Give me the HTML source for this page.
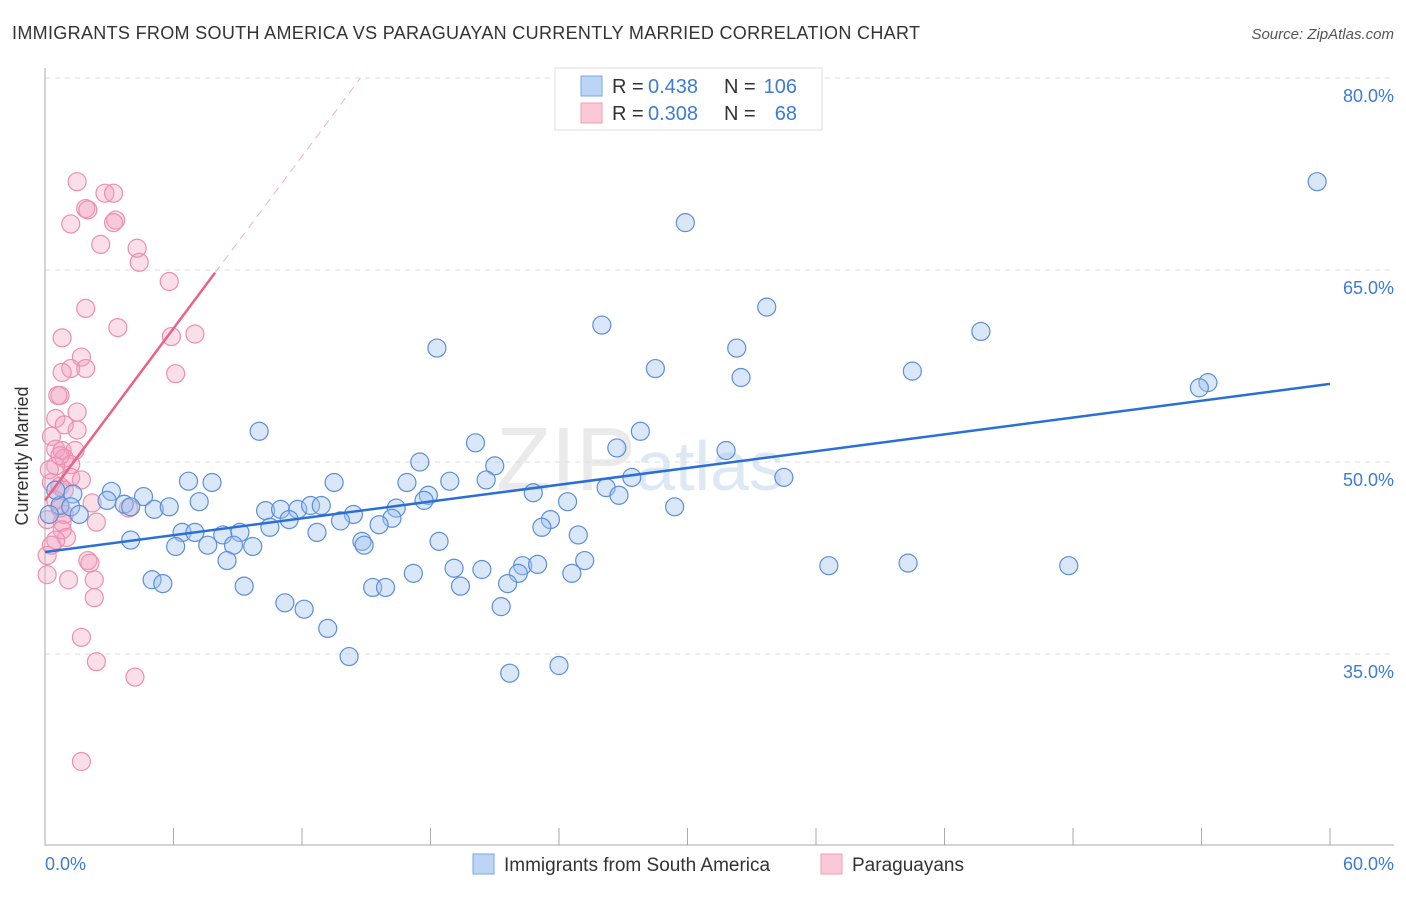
<!DOCTYPE html>
<html><head><meta charset="utf-8"><style>
body{margin:0;background:#fff;font-family:"Liberation Sans",sans-serif}
text{font-family:"Liberation Sans",sans-serif}
</style></head><body>
<svg id="chart" width="1406" height="892" viewBox="0 0 1406 892" xmlns="http://www.w3.org/2000/svg">
<text x="12" y="39" font-size="18" fill="#333" textLength="908">IMMIGRANTS FROM SOUTH AMERICA VS PARAGUAYAN CURRENTLY MARRIED CORRELATION CHART</text>
<text x="1394" y="39" font-size="15" fill="#555" text-anchor="end" font-style="italic">Source: ZipAtlas.com</text>
<text x="640" y="490" font-size="90" fill="#ddd" font-family="Liberation Serif" text-anchor="middle" opacity="0.6">ZIP<tspan fill="#c8daf0" font-family="Liberation Sans" font-size="70">atlas</tspan></text>
<g id="grid"></g><g id="axes"></g><g id="pts"></g><g id="lines"></g>
<text x="28" y="456" font-size="18" fill="#333" text-anchor="middle" transform="rotate(-90 28 456)">Currently Married</text>
<text x="45" y="870" font-size="18" fill="#3d7bd9">0.0%</text>
<text x="1394" y="870" font-size="18" fill="#3d7bd9" text-anchor="end">60.0%</text>
<g>
<rect x="555" y="68" width="267" height="62" fill="#fff" stroke="#ddd"/>
<rect x="581" y="76" width="21" height="20" fill="#bcd4f5" stroke="#7aa7e4"/>
<rect x="581" y="103" width="21" height="20" fill="#fac8d7" stroke="#ee9fb7"/>
<text x="612" y="93" font-size="20" fill="#333">R =</text>
<text x="648" y="93" font-size="20" fill="#3d7bd9">0.438</text>
<text x="724" y="93" font-size="20" fill="#333">N =</text>
<text x="797" y="93" font-size="20" fill="#3d7bd9" text-anchor="end">106</text>
<text x="612" y="120" font-size="20" fill="#333">R =</text>
<text x="648" y="120" font-size="20" fill="#3d7bd9">0.308</text>
<text x="724" y="120" font-size="20" fill="#333">N =</text>
<text x="797" y="120" font-size="20" fill="#3d7bd9" text-anchor="end">68</text>
</g>
<g>
<rect x="473" y="854" width="21" height="20" fill="#bcd4f5" stroke="#7aa7e4"/>
<text x="504" y="871" font-size="19" fill="#333">Immigrants from South America</text>
<rect x="821" y="854" width="21" height="20" fill="#fac8d7" stroke="#ee9fb7"/>
<text x="852" y="871" font-size="19" fill="#333">Paraguayans</text>
</g>
</svg>
<script>
const yTicks=[35,50,65,80];
const xTicks=[0,6,12,18,24,30,36,42,48,54,60];
const blueX=[59.4,29.9,33.7,26.0,43.7,18.3,32.3,28.5,40.5,32.5,54.3,53.9,10.0,27.8,20.1,26.7,31.8,17.5,21.0,34.5,27.4,20.6,18.9,6.7,7.8,13.5,16.9,26.2,26.8,22.8,17.9,17.7,24.4,3.1,4.6,1.3,2.9,3.7,7.2,0.7,1.2,4.0,5.1,5.8,1.6,10.3,11.0,11.8,12.4,12.9,16.4,14.4,29.4,11.4,13.8,23.6,16.2,10.5,15.6,23.2,12.7,6.4,7.0,9.1,8.3,24.9,4.0,18.4,14.8,14.9,6.1,7.6,8.8,9.7,8.5,25.2,22.3,36.6,40.3,47.8,23.0,19.1,20.4,22.1,17.2,24.6,21.6,5.0,5.5,19.4,9.3,15.3,15.9,11.2,12.1,21.3,13.2,14.2,24.0,21.7,0.2,0.5];
const blueY=[71.9,68.7,62.1,60.7,60.2,58.9,58.9,57.3,57.1,56.6,56.2,55.8,52.4,52.4,51.5,51.1,50.9,50.0,49.7,48.8,48.8,48.6,48.5,48.5,48.4,48.4,48.4,48.0,47.4,47.6,47.4,47.0,46.9,47.7,47.3,47.5,47.0,46.7,46.9,46.6,46.5,46.5,46.3,46.5,45.9,46.2,46.3,46.3,46.6,46.6,46.4,45.9,46.5,45.5,45.4,45.5,45.6,44.9,45.1,44.9,44.5,44.5,44.5,44.5,44.3,44.3,43.9,43.8,43.8,43.5,43.4,43.5,43.5,43.4,42.3,42.3,41.9,41.9,42.1,41.9,42.0,41.7,41.6,41.3,41.3,41.3,40.5,40.8,40.5,40.3,40.3,40.2,40.2,39.0,38.5,38.7,37.0,34.8,34.1,33.5,45.9,47.8];
const pinkX=[1.5,2.8,3.2,1.9,2.0,3.3,3.2,1.2,2.6,4.3,4.4,5.8,1.9,3.4,7.0,5.9,0.8,1.7,1.9,6.1,1.2,0.8,0.7,0.6,1.5,0.5,0.9,1.5,0.3,0.5,0.8,1.4,0.9,1.2,0.5,0.2,1.2,0.3,0.7,0.9,0.5,0.7,0.9,0.8,2.4,0.8,1.0,0.5,2.0,2.1,0.1,0.1,1.1,2.3,2.3,1.7,2.4,4.2,1.7,3.9,2.2,1.7,0.7,0.1,0.3];
const pinkY=[71.9,71.0,71.0,69.8,69.7,68.9,68.7,68.6,67.0,66.7,65.6,64.1,62.0,60.5,60.0,59.8,59.7,58.2,57.3,56.9,57.3,57.0,55.2,55.2,53.9,53.4,52.9,52.5,52.0,51.0,50.9,50.9,50.3,49.8,49.7,49.4,48.8,48.4,48.1,47.8,47.0,46.4,45.9,45.3,45.3,44.7,44.1,43.9,42.3,42.1,42.7,41.2,40.8,40.8,39.4,36.3,34.4,33.2,26.6,46.4,46.8,48.6,50.5,45.5,43.5];
const blueFit=[42.97,56.1];   // value at x=0 and x=60
const pinkFit=[47.0,2.24];    // intercept, slope
const X=v=>45+v*(1285/60), Y=v=>462-(v-50)*12.8;
const NS='http://www.w3.org/2000/svg';
function mk(p,t,a){const e=document.createElementNS(NS,t);for(const k in a)e.setAttribute(k,a[k]);document.getElementById(p).appendChild(e);return e;}
yTicks.forEach(t=>{
 const l=mk('grid','line',{x1:45,x2:1394,y1:Y(t),y2:Y(t),stroke:'#ddd','stroke-dasharray':'5,5'});
 
 
 const tx=mk('grid','text',{x:1394,y:Y(t)+24,'font-size':18,fill:'#3d7bd9','text-anchor':'end'});
 tx.textContent=t.toFixed(1)+'%';
 
 
});
const ax=mk('axes','path',{d:'M45 68V845H1394',stroke:'#aaa',fill:'none'});


xTicks.forEach(t=>{
 const l=mk('axes','line',{x1:X(t),x2:X(t),y1:828,y2:845,stroke:'#aaa'});
 
 
});
pinkX.forEach((v,i)=>{
 const c=mk('pts','circle',{cx:X(v),cy:Y(pinkY[i]),r:9,fill:'rgba(242,160,188,0.35)',stroke:'#ec8fae','stroke-width':1.2});
 
 
});
blueX.forEach((v,i)=>{
 const c=mk('pts','circle',{cx:X(v),cy:Y(blueY[i]),r:9,fill:'rgba(160,196,240,0.4)',stroke:'#5b8fd9','stroke-width':1.2});
 
 
});
const bl=mk('lines','line',{x1:X(0),y1:Y(blueFit[0]),x2:X(60),y2:Y(blueFit[1]),stroke:'#2a6fd6','stroke-width':2.5});


const pf=x=>pinkFit[0]+pinkFit[1]*x;
const pl=mk('lines','line',{x1:X(0),y1:Y(pf(0)),x2:X(7.94),y2:Y(pf(7.94)),stroke:'#e8628b','stroke-width':2.5});


const xe=(80-pinkFit[0])/pinkFit[1];
const pd=mk('lines','line',{x1:X(7.94),y1:Y(pf(7.94)),x2:X(xe),y2:Y(80),stroke:'#f0b0c4','stroke-width':1,'stroke-dasharray':'8,6'});


</script>
</body></html>
